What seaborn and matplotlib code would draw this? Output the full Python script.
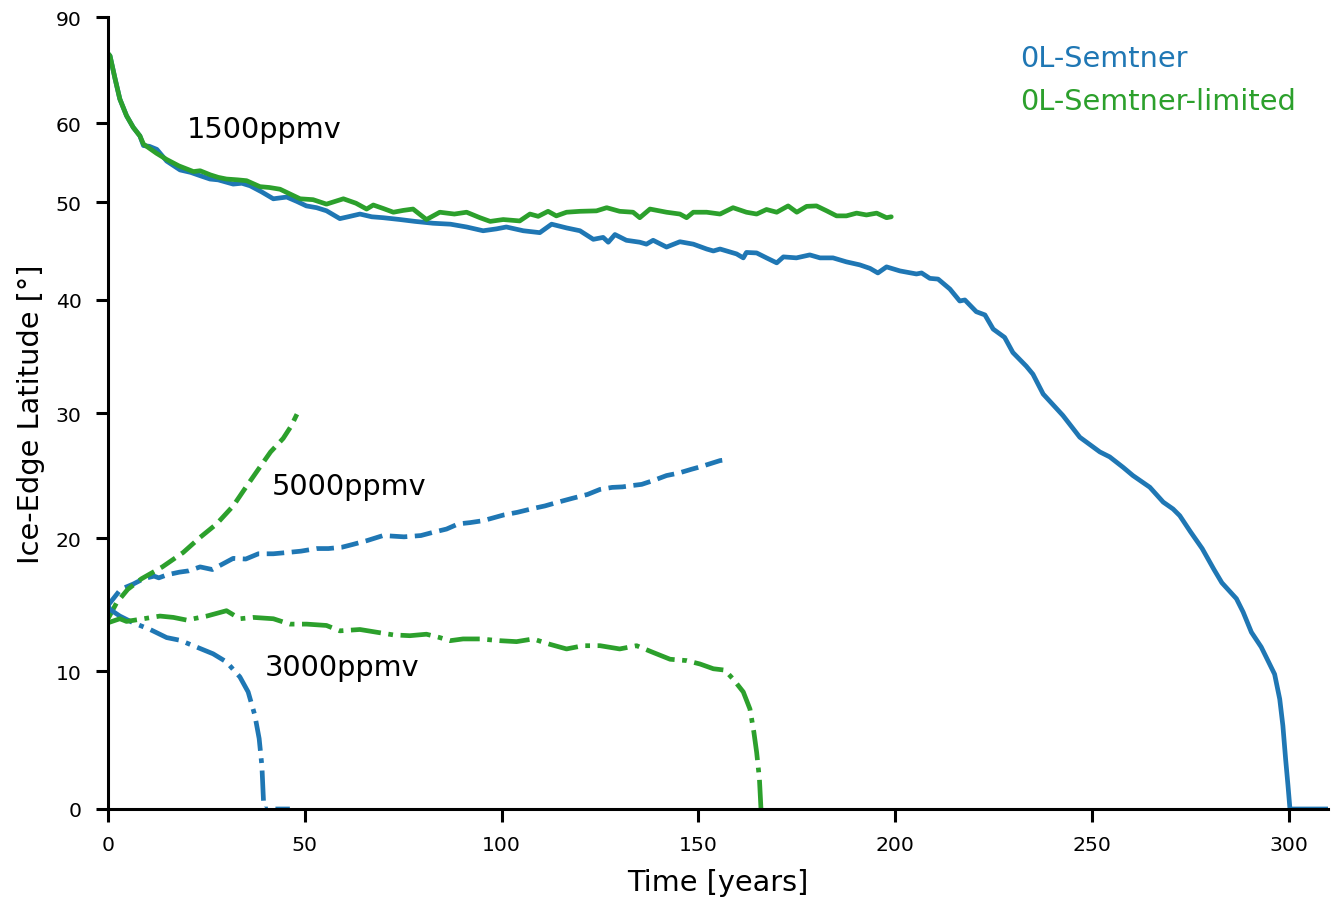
import numpy as np
import pandas as pd
import matplotlib
matplotlib.use("Agg")
import matplotlib.pyplot as plt
import seaborn as sns

# ---------------- data ----------------
models = ["0L-Semtner", "0L-Semtner-limited"]
scenario_labels = ["1500ppmv", "5000ppmv", "3000ppmv"]

t_1500_semtner = [0, 0.5, 1.8, 3.0, 4.7, 6.4, 8.1, 9.0, 10.5, 12.4, 14.9, 18.3, 21, 23.4, 25.9, 28, 31.8, 34,
                  36.1, 39, 42.0, 45.4, 48, 50.4, 53, 55.5, 58.9, 61, 64.0, 67, 69.9, 74.2, 78, 82.6, 87, 91.1,
                  95.3, 98.7, 101.2, 105.5, 109.7, 112.7, 116.5, 119.9, 123.3, 125.8, 127.1, 128.8, 131.7, 135.1,
                  136.8, 138.5, 141.9, 145.3, 148.7, 152.1, 153.8, 155.5, 159.7, 161.4, 162.2, 164.8, 167.3, 169.9,
                  171.6, 174.9, 178.3, 180.9, 184.2, 187.6, 191.0, 193.6, 195.6, 197.8, 201.2, 205.4, 206.7, 208.8,
                  210.9, 213.9, 216.4, 217.7, 220.6, 222.8, 224.9, 227.8, 229.9, 233.3, 235.0, 237.6, 242.6, 246.9,
                  252.0, 254.5, 257.9, 260.4, 264.7, 268.1, 270.6, 272.3, 275, 278, 281, 283, 286.7, 288.4, 290.5,
                  293.0, 294.7, 296.4, 297.7, 298.5, 299.2, 299.8, 300.3, 305, 310]
lat_1500_semtner = [72.4, 72.0, 67.2, 63.7, 61.1, 59.4, 58.2, 56.9, 56.8, 56.4, 54.9, 53.8, 53.5, 53.1, 52.7, 52.6,
                    52.1, 52.2, 51.9, 51.2, 50.4, 50.6, 50.1, 49.6, 49.4, 49.06, 48.2, 48.4, 48.7, 48.4, 48.3, 48.1,
                    47.9, 47.7, 47.6, 47.3, 46.9, 47.1, 47.3, 46.9, 46.7, 47.6, 47.2, 46.9, 46.0, 46.2, 45.7, 46.5,
                    45.9, 45.7, 45.5, 45.9, 45.2, 45.75, 45.5, 45.0, 44.8, 45.0, 44.5, 44.1, 44.65, 44.6, 44.1, 43.6,
                    44.2, 44.1, 44.4, 44.1, 44.1, 43.7, 43.4, 43.05, 42.6, 43.2, 42.8, 42.5, 42.6, 42.07, 42.0, 41.04,
                    39.9, 40.0, 38.9, 38.6, 37.3, 36.55, 35.2, 34.0, 33.3, 31.6, 29.8, 28.0, 26.8, 26.4, 25.56, 24.9,
                    23.97, 22.8, 22.26, 21.74, 20.5, 19.2, 17.6, 16.6, 15.4, 14.4, 12.9, 11.8, 10.8, 9.8, 7.98, 6.04,
                    3.6, 1.7, 0, 0, 0]

t_1500_limited = [0, 0.5, 1.8, 3.0, 4.7, 6.4, 8.1, 9.0, 12.3, 14.9, 18, 21.7, 23.4, 26, 28, 30.1, 33, 35.2, 38.6,
                  41, 43.7, 46, 48.8, 52.1, 55.5, 59.8, 63, 65.7, 67.4, 70, 72.5, 75, 77.5, 80.9, 84.3, 88, 91.1,
                  94.5, 97.1, 100.4, 104.6, 107.2, 109.3, 111.8, 113.9, 116.5, 119.9, 124.1, 126.7, 130.0, 133.4,
                  135.1, 137.7, 141.9, 145.3, 147.0, 148.7, 152.1, 155.5, 158.8, 162.2, 164.8, 167.3, 169.9, 172.8,
                  175.0, 177.5, 180.0, 182.6, 185.1, 187.6, 190.2, 192.7, 195.3, 197.8, 199]
lat_1500_limited = [72.6, 72.0, 67.2, 63.7, 61.1, 59.4, 58.2, 57.1, 55.9, 55.1, 54.3, 53.6, 53.7, 53.2, 52.9, 52.7,
                    52.6, 52.5, 51.8, 51.7, 51.5, 51.0, 50.4, 50.3, 49.8, 50.4, 49.9, 49.25, 49.7, 49.3, 48.9, 49.1,
                    49.25, 48.1, 48.9, 48.7, 48.9, 48.3, 47.9, 48.1, 47.95, 48.7, 48.45, 49.0, 48.5, 48.9, 49.0,
                    49.05, 49.4, 49.0, 48.9, 48.3, 49.25, 48.9, 48.7, 48.3, 48.9, 48.9, 48.7, 49.4, 48.9, 48.7, 49.2,
                    48.9, 49.6, 48.9, 49.55, 49.6, 49.05, 48.5, 48.5, 48.8, 48.6, 48.8, 48.3, 48.4]

t_5000_semtner = [0, 3.2, 6.4, 9, 11.7, 12.9, 15, 18.1, 20.5, 23.4, 26.5, 29, 31.8, 35.0, 38.2, 42, 45.6, 49, 53.0,
                  56, 59.4, 62, 65.7, 69.9, 75.2, 79.5, 82.6, 86, 89.0, 92, 95.3, 100.6, 104, 108.0, 111, 114.4,
                  118, 121.8, 125, 128.1, 130.7, 133, 135.6, 138.5, 141.9, 145, 148.2, 150.5, 153.5, 155.5, 157.8]
lat_5000_semtner = [14.9, 16.1, 16.5, 16.9, 17.1, 16.97, 17.2, 17.4, 17.5, 17.8, 17.6, 18.0, 18.45, 18.4, 18.8,
                    18.8, 18.9, 19.0, 19.2, 19.2, 19.3, 19.5, 19.8, 20.2, 20.1, 20.2, 20.45, 20.7, 21.1, 21.2, 21.35,
                    21.8, 22.0, 22.3, 22.5, 22.8, 23.1, 23.4, 23.8, 23.96, 24.0, 24.1, 24.2, 24.5, 24.9, 25.1, 25.4,
                    25.6, 25.9, 26.1, 26.2]

t_5000_limited = [0, 2.2, 5, 8.5, 13.8, 19.1, 23.4, 27.6, 31.8, 35.0, 38.2, 41.3, 44.5, 46.5, 48.0]
lat_5000_limited = [13.9, 15.1, 16.1, 16.9, 17.8, 18.9, 20.06, 21.1, 22.5, 23.96, 25.4, 26.8, 27.9, 28.9, 29.9]

t_3000_semtner = [0, 0.5, 3.0, 6.4, 10.7, 14.9, 18.3, 22.5, 26.7, 30.1, 33.5, 35.6, 37.3, 38.4, 39.1, 39.4, 39.6,
                  43, 46.2]
lat_3000_semtner = [14.9, 14.6, 14.1, 13.6, 13.1, 12.5, 12.3, 11.8, 11.3, 10.7, 9.6, 8.5, 6.8, 5.1, 3.1, 1.2, 0, 0, 0]

t_3000_limited = [0, 3.0, 4.7, 9.0, 13.2, 16.6, 20.0, 25.1, 30.1, 33.5, 36.9, 42.0, 46.2, 50.5, 55.5, 58.9, 64.0,
                  68.2, 72.5, 76.7, 80.9, 84.3, 86.9, 90.2, 94.5, 99.6, 103.8, 108.0, 112.3, 116.5, 120.7, 125.0,
                  130.0, 134.3, 138.5, 142.8, 147.0, 150.4, 153.8, 156.7, 158.8, 161.4, 163.1, 164.1, 164.8, 165.5,
                  165.9]
lat_3000_limited = [13.6, 13.9, 13.7, 13.9, 14.1, 14.0, 13.8, 14.1, 14.5, 13.9, 14.0, 13.9, 13.5, 13.5, 13.4, 13.0,
                    13.1, 12.9, 12.7, 12.64, 12.75, 12.5, 12.27, 12.4, 12.4, 12.27, 12.2, 12.4, 12.0, 11.66, 11.9,
                    11.9, 11.66, 11.9, 11.4, 10.9, 10.8, 10.55, 10.2, 10.1, 9.45, 8.5, 7.25, 5.56, 4.1, 2.2, 0]

y_ticks = [0, 10, 20, 30, 40, 50, 60, 90]
x_ticks = [0, 50, 100, 150, 200, 250, 300]

# ---------------- plotting ----------------
sns.set_style("ticks")
plt.rcParams["font.family"] = ["DejaVu Sans"]
plt.rcParams["text.color"] = "black"
plt.rcParams["axes.labelcolor"] = "black"
plt.rcParams["xtick.color"] = "black"
plt.rcParams["ytick.color"] = "black"
plt.rcParams["xtick.labelcolor"] = "black"
plt.rcParams["ytick.labelcolor"] = "black"

pal = sns.color_palette("tab10")
c_sem, c_lim = pal[0], pal[2]

fig = plt.figure(figsize=(13.32, 9.03), dpi=100)
ax = fig.add_axes([0.0811, 0.103, 0.916, 0.877])


def fwd(v):
    return np.sin(np.deg2rad(np.clip(v, -90, 90)))


def inv(v):
    return np.rad2deg(np.arcsin(np.clip(v, -1, 1)))


ax.set_yscale("function", functions=(fwd, inv))

LW = 3.4
series = [
    (t_1500_semtner, lat_1500_semtner, c_sem, "-"),
    (t_1500_limited, lat_1500_limited, c_lim, "-"),
    (t_5000_semtner, lat_5000_semtner, c_sem, "--"),
    (t_5000_limited, lat_5000_limited, c_lim, "--"),
    (t_3000_semtner, lat_3000_semtner, c_sem, "-."),
    (t_3000_limited, lat_3000_limited, c_lim, "-."),
]
for t, lat, col, ls in series:
    df = pd.DataFrame({"time": t, "lat": lat})
    sns.lineplot(data=df, x="time", y="lat", color=col, linestyle=ls, linewidth=LW,
                 sort=False, estimator=None, ax=ax, legend=False)

ax.set_xlim(0, 310)
ax.set_ylim(0, 90)
ax.set_yticks(y_ticks)
ax.set_yticklabels([str(v) for v in y_ticks])
ax.set_xticks(x_ticks)

BIG = 20.7
SMALL = 14.7
ax.set_xlabel("Time [years]", fontsize=BIG, labelpad=10, color="black")
ax.set_ylabel("Ice-Edge Latitude [°]", fontsize=BIG, labelpad=8, color="black")
ax.tick_params(axis="both", labelsize=SMALL, length=9, width=2.2, pad=10,
               color="black", labelcolor="black")
for s in ["left", "bottom"]:
    ax.spines[s].set_linewidth(2.2)
    ax.spines[s].set_color("black")
sns.despine(ax=ax)

# scenario annotations
ax.text(20.0, 58.0, scenario_labels[0], fontsize=BIG, va="baseline", ha="left", color="black")
ax.text(41.7, 23.43, scenario_labels[1], fontsize=BIG, va="baseline", ha="left", color="black")
ax.text(39.8, 9.74, scenario_labels[2], fontsize=BIG, va="baseline", ha="left", color="black")

# model labels (coloured text legend)
ax.text(231.7, 69.8, models[0], fontsize=BIG, color=c_sem, va="baseline", ha="left")
ax.text(231.7, 62.1, models[1], fontsize=BIG, color=c_lim, va="baseline", ha="left")

fig.savefig("out.png", dpi=100)
